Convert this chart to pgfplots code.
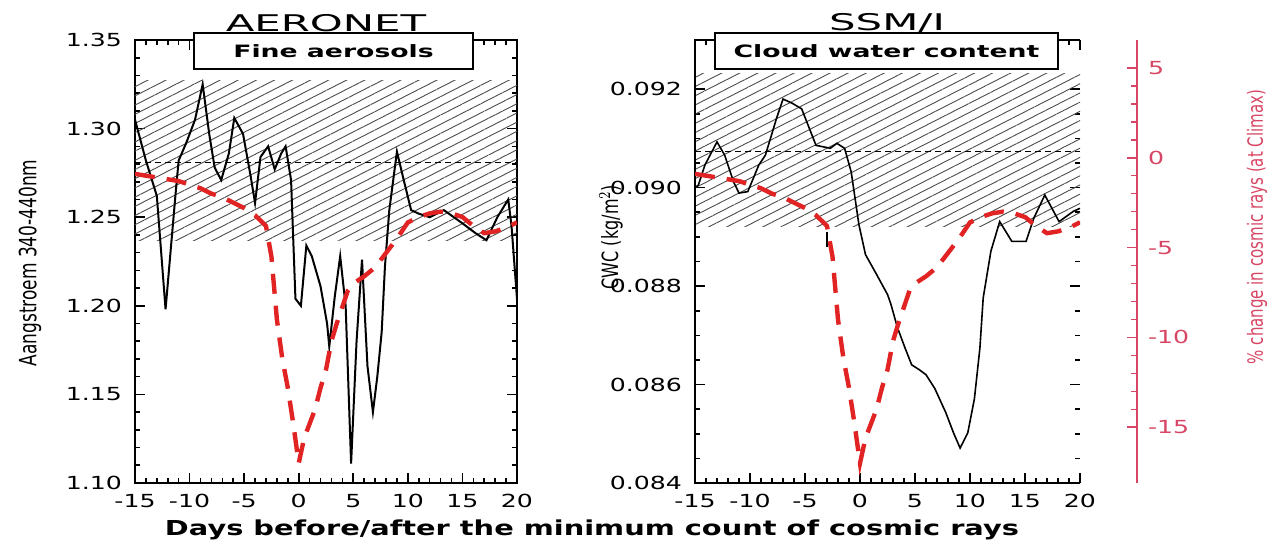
\documentclass[border=0pt]{standalone}
\usepackage{fontspec}
\setmainfont{DejaVu Sans}[FakeStretch=1.4]
\newfontfamily\plainfont{DejaVu Sans}
\usepackage{pgfplots}
\pgfplotsset{compat=1.18}
\usetikzlibrary{patterns.meta}
\definecolor{cosmic}{RGB}{225,35,35}
\definecolor{cosmicaxis}{RGB}{215,70,100}

\pgfplotstableread{
day val
-15 1.305
-14 1.282
-13 1.262
-12.2 1.198
-11.3 1.262
-11 1.282
-10.3 1.292
-9.5 1.305
-8.8 1.325
-8.2 1.297
-7.7 1.278
-7.1 1.271
-6.4 1.286
-5.9 1.306
-5.1 1.297
-4.4 1.273
-4.0 1.258
-3.5 1.284
-2.8 1.290
-2.2 1.277
-1.6 1.286
-1.2 1.290
-0.7 1.271
-0.3 1.204
0.2 1.200
0.7 1.234
1.2 1.228
2.0 1.211
2.6 1.190
2.8 1.177
3.3 1.205
3.8 1.228
4.3 1.200
4.8 1.111
5.3 1.180
5.8 1.226
6.3 1.166
6.8 1.140
7.2 1.160
7.6 1.185
7.9 1.222
8.3 1.254
9.0 1.287
9.7 1.269
10.3 1.254
11.0 1.252
12.0 1.250
13.3 1.254
14.9 1.247
16.2 1.241
17.2 1.237
18.2 1.250
19.2 1.260
19.5 1.245
20 1.204
}\aeronet

\pgfplotstableread{
day val
-15 0.0900
-14.7 0.09005
-14.1 0.09046
-13.0 0.09093
-12.3 0.09066
-11.5 0.09012
-11.0 0.08989
-10.2 0.08992
-9.2 0.09046
-8.6 0.09066
-7.6 0.0914
-7.0 0.0918
-6.2 0.09172
-5.3 0.0916
-4.0 0.09086
-2.7 0.0908
-2.1 0.0909
-1.4 0.0908
-0.8 0.09032
-0.1 0.08925
0.5 0.08864
1.5 0.08824
2.5 0.08783
2.8 0.08764
3.4 0.08716
4.1 0.08674
4.7 0.0864
5.4 0.0863
6.0 0.0862
6.8 0.08592
7.8 0.08543
8.5 0.08502
9.1 0.08471
9.8 0.08502
10.4 0.08571
10.9 0.08674
11.2 0.08776
11.9 0.08871
12.7 0.08931
13.8 0.08891
15.1 0.08891
15.8 0.08938
16.8 0.08985
18.1 0.08931
19.4 0.08952
20 0.08958
}\ssmi

\pgfplotstableread{
day val
-15 -0.9
-14 -1.0
-13 -1.1
-12 -1.2
-11 -1.3
-10 -1.5
-9 -1.7
-8 -2.0
-7 -2.2
-6 -2.5
-5 -2.8
-4 -3.2
-3 -3.8
-2.5 -5.5
-2 -9.0
-1.5 -11.2
-1 -12.8
-0.5 -14.8
0 -17.0
0.5 -15.6
1 -14.8
1.5 -14.0
2 -12.8
2.5 -11.8
3 -10.2
3.5 -9.2
4 -8.3
4.5 -7.4
5 -7.0
6 -6.6
7 -6.1
8 -5.3
9 -4.5
10 -3.6
11 -3.3
12 -3.1
13 -3.0
14 -3.1
15 -3.3
16 -3.8
17 -4.2
18 -4.1
19 -3.9
20 -3.6
}\cosmicrays

\pgfplotsset{
  panel/.style={scale only axis, height=221.5pt, anchor=south west,
    xmin=-15, xmax=20, xtick={-15,-10,-5,0,5,10,15,20}, minor x tick num=4,
    tick align=inside, major tick length=5pt, minor tick length=2.5pt,
    axis line style={line width=1.1pt}, tick style={line width=0.8pt, black},
    tick label style={font=\fontsize{9}{10}\selectfont},
    /pgf/number format/assume math mode=true,
    scaled ticks=false,
    xticklabel style={yshift=-2pt},
    yticklabel style={xshift=-3pt}},
  overlay/.style={scale only axis, height=221.5pt, anchor=south west,
    xmin=-15, xmax=20, ymin=-18.1, ymax=6.55, hide axis},
  hatch/.style={draw=none, pattern={Lines[angle=27,distance=4.1pt,line width=0.45pt]}, pattern color=black!70},
  reddash/.style={cosmic, line width=2.2pt, dash pattern=on 10pt off 6pt},
}

\begin{document}
\begin{tikzpicture}
\useasboundingbox (0,0) rectangle (640.5pt,271pt);

% ---------- left panel ----------
\begin{axis}[panel, at={(67.5pt,29.5pt)}, width=191pt,
  ymin=1.10, ymax=1.35, ytick={1.10,1.15,1.20,1.25,1.30,1.35}, minor y tick num=4,
  yticklabel style={/pgf/number format/fixed, /pgf/number format/fixed zerofill, /pgf/number format/precision=2}]
  \addplot[hatch] coordinates {(-15,1.2366) (20,1.2366) (20,1.3273) (-15,1.3273) (-15,1.2366)};
  \addplot[black, line width=0.6pt, dash pattern=on 3pt off 2pt] coordinates {(-15,1.2808) (20,1.2808)};
  \addplot[black, line width=1pt] table[x=day,y=val] {\aeronet};
\end{axis}
\begin{axis}[overlay, at={(67.5pt,29.5pt)}, width=191pt]
  \addplot[reddash] table[x=day,y=val] {\cosmicrays};
\end{axis}

% ---------- right panel (no right spine, only its ticks) ----------
\begin{axis}[panel, at={(347.5pt,29.5pt)}, width=192.5pt, clip=false,
  axis line style={draw=none},
  ymin=0.084, ymax=0.093, ytick={0.084,0.086,0.088,0.090,0.092}, minor y tick num=3,
  yticklabel style={/pgf/number format/fixed, /pgf/number format/fixed zerofill, /pgf/number format/precision=3}]
  \addplot[hatch] coordinates {(-15,0.08921) (20,0.08921) (20,0.09231) (-15,0.09231) (-15,0.08921)};
  \addplot[black, line width=0.6pt, dash pattern=on 3pt off 2pt] coordinates {(-15,0.09074) (20,0.09074)};
  \addplot[black, line width=0.8pt] table[x=day,y=val] {\ssmi};
  \addplot[black, line width=0.6pt] coordinates {(-3,0.0891) (-3,0.0888)};
  \draw[line width=1.1pt] (rel axis cs:1,1) -- (rel axis cs:0,1) -- (rel axis cs:0,0) -- (rel axis cs:1,0);
\end{axis}
\begin{axis}[overlay, at={(347.5pt,29.5pt)}, width=192.5pt]
  \addplot[reddash] table[x=day,y=val] {\cosmicrays};
\end{axis}

% ---------- red cosmic-ray axis ----------
\begin{axis}[scale only axis, height=221.5pt, width=221pt, anchor=south west,
  at={(347.5pt,29.5pt)}, xmin=-15, xmax=20, ymin=-18.1, ymax=6.55,
  axis x line=none, axis y line*=right,
  axis line style={cosmicaxis, line width=1pt},
  ytick={-15,-10,-5,0,5}, minor y tick num=4, tick align=inside,
  major tick length=5pt, minor tick length=3pt,
  tick style={cosmicaxis, line width=0.8pt},
  tick label style={font=\fontsize{9}{10}\selectfont, text=cosmicaxis},
  yticklabel style={xshift=2pt},
  /pgf/number format/assume math mode=true]
  \addplot[draw=none] coordinates {(0,0)};
\end{axis}

% ---------- text ----------
\node[font=\fontsize{11.5}{12}\selectfont] at (163pt,259.5pt) {\scalebox{1.3}[1]{AERONET}};
\node[font=\fontsize{11.5}{12}\selectfont] at (443.5pt,259.5pt) {\scalebox{1.3}[1]{SSM/I}};
\node[draw, line width=1pt, fill=white, minimum width=139.5pt, minimum height=18pt, inner sep=0pt,
  font=\bfseries\fontsize{8.5}{9}\selectfont] at (166.75pt,245.5pt) {\scalebox{1.12}[1]{Fine aerosols}};
\node[draw, line width=1pt, fill=white, minimum width=171.5pt, minimum height=18pt, inner sep=0pt,
  font=\bfseries\fontsize{8.5}{9}\selectfont] at (443.25pt,245.5pt) {\scalebox{1.12}[1]{Cloud water content}};
\node[font=\bfseries\fontsize{10.3}{12}\selectfont] at (296pt,6pt) {Days before/after the minimum count of cosmic rays};
\node[rotate=90] at (15pt,139.5pt) {\scalebox{1}[1.4]{\plainfont\fontsize{8.5}{9}\selectfont Aangstroem 340-440nm}};
\node[rotate=90] at (305.5pt,152.5pt) {\scalebox{1}[1.4]{\plainfont\fontsize{8}{9}\selectfont CWC (kg/m$^{2}$)}};
\node[rotate=90, text=cosmicaxis] at (628.5pt,157.5pt) {\scalebox{1}[1.4]{\plainfont\fontsize{7.5}{8}\selectfont \% change in cosmic rays (at Climax)}};
\end{tikzpicture}
\end{document}
